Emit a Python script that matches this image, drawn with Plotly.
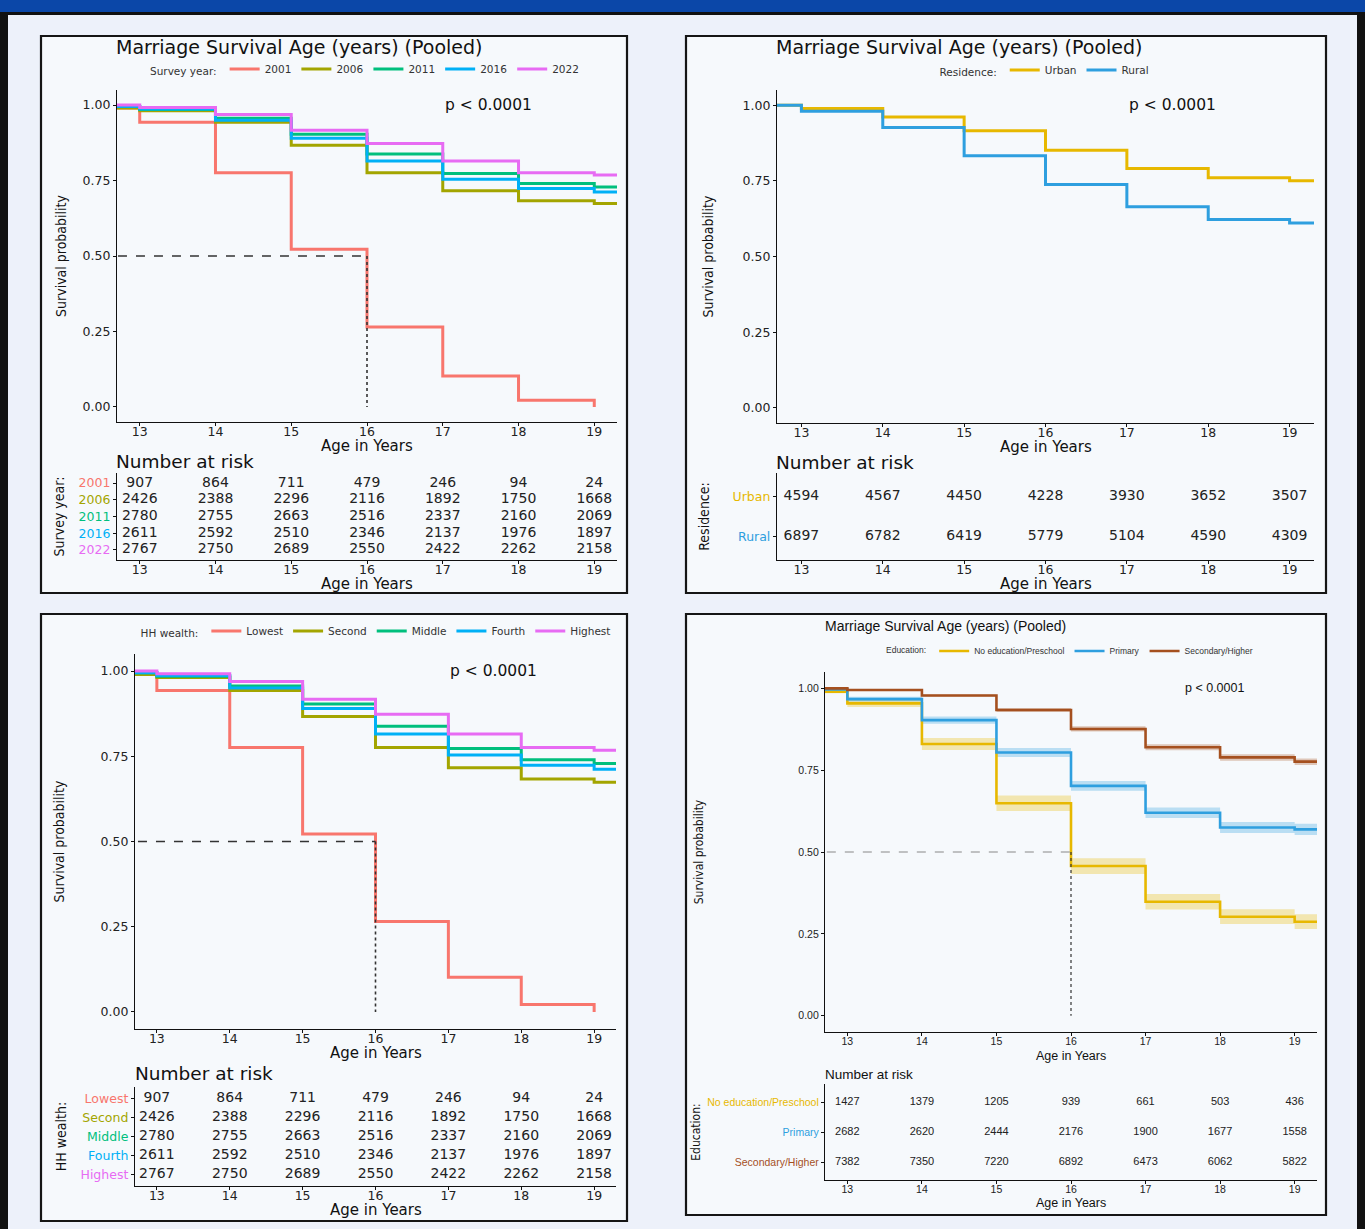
import plotly.graph_objects as go

W, H = 1365, 1229

# ------------------------------------------------------------------ data
ages = [13, 14, 15, 16, 17, 18, 19]
age_origin = 12        # curves start before the first displayed age
followup_end = 19.3    # end of the follow-up window

# Panels A and C (same estimates, different labels)
survey_year_labels = ["2001", "2006", "2011", "2016", "2022"]
wealth_labels = ["Lowest", "Second", "Middle", "Fourth", "Highest"]
five_colors = ["#F8766D", "#A3A500", "#00BF7D", "#00B0F6", "#E76BF3"]
five_start = [0.99, 0.99, 0.995, 0.995, 1.0]
surv_g1 = [0.943, 0.776, 0.522, 0.265, 0.102, 0.022, 0.0]
surv_g2 = [0.981, 0.943, 0.867, 0.776, 0.716, 0.683, 0.674]
surv_g3 = [0.985, 0.956, 0.903, 0.838, 0.773, 0.740, 0.729]
surv_g4 = [0.987, 0.950, 0.890, 0.815, 0.754, 0.724, 0.712]
surv_g5 = [0.992, 0.969, 0.917, 0.873, 0.815, 0.776, 0.768]
risk_g1 = [907, 864, 711, 479, 246, 94, 24]
risk_g2 = [2426, 2388, 2296, 2116, 1892, 1750, 1668]
risk_g3 = [2780, 2755, 2663, 2516, 2337, 2160, 2069]
risk_g4 = [2611, 2592, 2510, 2346, 2137, 1976, 1897]
risk_g5 = [2767, 2750, 2689, 2550, 2422, 2262, 2158]

# Panel B (residence)
residence_labels = ["Urban", "Rural"]
residence_colors = ["#E7B800", "#2E9FDF"]
residence_start = [1.0, 1.0]
surv_urban = [0.989, 0.961, 0.915, 0.851, 0.791, 0.760, 0.750]
surv_rural = [0.980, 0.926, 0.833, 0.738, 0.664, 0.622, 0.611]
risk_urban = [4594, 4567, 4450, 4228, 3930, 3652, 3507]
risk_rural = [6897, 6782, 6419, 5779, 5104, 4590, 4309]

# Panel D (education)
edu_labels = ["No education/Preschool", "Primary", "Secondary/Higher"]
edu_colors = ["#E7B800", "#2E9FDF", "#A5501F"]
edu_fill = ["rgba(231,184,0,0.30)", "rgba(46,159,223,0.30)", "rgba(165,80,31,0.30)"]
edu_start = [0.99, 0.997, 1.0]
edu_start_lo = [0.985, 0.995, 0.997]
edu_start_hi = [0.995, 0.999, 1.0]
surv_none = [0.954, 0.830, 0.649, 0.457, 0.348, 0.302, 0.287]
lo_none = [0.943, 0.812, 0.625, 0.433, 0.324, 0.280, 0.265]
hi_none = [0.965, 0.848, 0.673, 0.481, 0.372, 0.325, 0.310]
surv_primary = [0.967, 0.903, 0.804, 0.702, 0.620, 0.575, 0.569]
lo_primary = [0.960, 0.892, 0.790, 0.687, 0.604, 0.558, 0.552]
hi_primary = [0.974, 0.914, 0.818, 0.717, 0.636, 0.592, 0.586]
surv_secondary = [0.995, 0.978, 0.934, 0.876, 0.820, 0.789, 0.776]
lo_secondary = [0.993, 0.975, 0.928, 0.868, 0.811, 0.779, 0.766]
hi_secondary = [0.997, 0.981, 0.940, 0.884, 0.829, 0.799, 0.786]
risk_none = [1427, 1379, 1205, 939, 661, 503, 436]
risk_primary = [2682, 2620, 2444, 2176, 1900, 1677, 1558]
risk_secondary = [7382, 7350, 7220, 6892, 6473, 6062, 5822]

y_ticks = [0.0, 0.25, 0.5, 0.75, 1.0]
title_text = "Marriage Survival Age (years) (Pooled)"
pval_text = "p < 0.0001"
x_title = "Age in Years"

five_surv = [surv_g1, surv_g2, surv_g3, surv_g4, surv_g5]
five_risk = [risk_g1, risk_g2, risk_g3, risk_g4, risk_g5]

# ------------------------------------------------------------------ helpers
F_MAIN = "DejaVu Sans, Verdana, sans-serif"
F_NARROW = "Liberation Sans Narrow, DejaVu Sans Condensed, Liberation Sans, sans-serif"
F_D = "Liberation Sans, Arial, sans-serif"


def px_x(a, b):
    return [a / W, b / W]


def px_y(top, bottom):
    return [1 - bottom / H, 1 - top / H]


def step_xy(start, values):
    x = [age_origin] + ages
    y = [start] + values
    if values[-1] > 0:
        x = x + [followup_end]
        y = y + [values[-1]]
    return x, y


def median_age(values):
    for a, v in zip(ages, values):
        if v <= 0.5:
            return a
    return None


fig = go.Figure()


def add_km(axn, labels, colors, starts, survs, legend, width=3):
    for lab, col, s0, sv in zip(labels, colors, starts, survs):
        x, y = step_xy(s0, sv)
        fig.add_trace(go.Scatter(
            x=x, y=y, mode="lines", line=dict(color=col, width=width, shape="hv"),
            name=lab, legend=legend, xaxis="x%d" % axn, yaxis="y%d" % axn,
            hoverinfo="skip"))


def add_median(axn, values, hcolor="#333", hwidth=1.6, vwidth=1.6, legend="legend"):
    m = median_age(values)
    if m is None:
        return
    fig.add_trace(go.Scatter(x=[age_origin, m], y=[0.5, 0.5], mode="lines",
                             line=dict(color=hcolor, width=hwidth, dash="dash"),
                             showlegend=False, legend=legend,
                             xaxis="x%d" % axn, yaxis="y%d" % axn, hoverinfo="skip"))
    fig.add_trace(go.Scatter(x=[m, m], y=[0.5, 0.0], mode="lines",
                             line=dict(color="#333", width=vwidth, dash="dot"),
                             showlegend=False, legend=legend,
                             xaxis="x%d" % axn, yaxis="y%d" % axn, hoverinfo="skip"))


def add_risk(axn, risks, font, legend):
    n = len(risks)
    for i, r in enumerate(risks):
        fig.add_trace(go.Scatter(
            x=ages, y=[n - 1 - i] * len(ages), mode="text",
            text=[str(v) for v in r], textfont=font, textposition="middle center",
            showlegend=False, legend=legend,
            xaxis="x%d" % axn, yaxis="y%d" % axn, hoverinfo="skip"))


risk_font = dict(family=F_MAIN, size=14, color="#222")
# Panel A
add_km(1, survey_year_labels, five_colors, five_start, five_surv, "legend")
add_median(1, surv_g1, legend="legend")
add_risk(2, five_risk, risk_font, "legend")
# Panel B
add_km(3, residence_labels, residence_colors, residence_start, [surv_urban, surv_rural], "legend2")
add_risk(4, [risk_urban, risk_rural], risk_font, "legend2")
# Panel C
add_km(5, wealth_labels, five_colors, five_start, five_surv, "legend3")
add_median(5, surv_g1, legend="legend3")
add_risk(6, five_risk, risk_font, "legend3")
# Panel D : ribbons then curves
for s0l, s0h, lo, hi, fc in zip(edu_start_lo, edu_start_hi,
                                [lo_none, lo_primary, lo_secondary],
                                [hi_none, hi_primary, hi_secondary], edu_fill):
    xl, yl = step_xy(s0l, lo)
    xh, yh = step_xy(s0h, hi)
    fig.add_trace(go.Scatter(x=xl, y=yl, mode="lines", line=dict(width=0, shape="hv"),
                             showlegend=False, legend="legend4",
                             xaxis="x7", yaxis="y7", hoverinfo="skip"))
    fig.add_trace(go.Scatter(x=xh, y=yh, mode="lines", line=dict(width=0, shape="hv"),
                             fill="tonexty", fillcolor=fc, showlegend=False, legend="legend4",
                             xaxis="x7", yaxis="y7", hoverinfo="skip"))
add_km(7, edu_labels, edu_colors, edu_start, [surv_none, surv_primary, surv_secondary],
       "legend4", width=2.6)
add_median(7, surv_none, hcolor="#888", hwidth=1.0, vwidth=1.2, legend="legend4")
add_risk(8, [risk_none, risk_primary, risk_secondary],
         dict(family=F_D, size=11, color="#222"), "legend4")

# ------------------------------------------------------------------ axes
layout_axes = {}


def axis_key(kind, n):
    return kind if n == 1 else "%s%d" % (kind, n)


def km_axes(n, xd, yd, tickfont, ytitle_font, ystandoff=12, xlabel_off=-5):
    layout_axes[axis_key("xaxis", n)] = dict(
        domain=xd, anchor="y%d" % n, range=[12.7, 19.3], tickvals=ages,
        showline=True, linecolor="#111", linewidth=1.3, ticks="outside", ticklen=3,
        tickcolor="#111", showgrid=False, zeroline=False, tickfont=tickfont,
        ticklabelstandoff=xlabel_off)
    layout_axes[axis_key("yaxis", n)] = dict(
        domain=yd, anchor="x%d" % n, range=[-0.05, 1.05], tickvals=y_ticks,
        tickformat=".2f", showline=True, linecolor="#111", linewidth=1.3,
        ticks="outside", ticklen=3, tickcolor="#111", showgrid=False, zeroline=False,
        tickfont=tickfont,
        title=dict(text="Survival probability", font=ytitle_font, standoff=ystandoff))


def risk_axes(n, xd, yd, labels, colors, tickfont, title, ytitle_font,
              ystandoff=10, xlabel_off=-5):
    k = len(labels)
    ticktext = ['<span style="color:%s">%s</span>' % (c, l) for l, c in zip(labels, colors)]
    layout_axes[axis_key("xaxis", n)] = dict(
        domain=xd, anchor="y%d" % n, range=[12.7, 19.3], tickvals=ages,
        showline=True, linecolor="#111", linewidth=1.3, ticks="outside", ticklen=3,
        tickcolor="#111", showgrid=False, zeroline=False, tickfont=tickfont,
        ticklabelstandoff=xlabel_off)
    layout_axes[axis_key("yaxis", n)] = dict(
        domain=yd, anchor="x%d" % n, range=[-0.6, k - 0.4],
        tickvals=list(range(k - 1, -1, -1)), ticktext=ticktext,
        showline=True, linecolor="#111", linewidth=1.3, ticks="outside", ticklen=3,
        tickcolor="#111", showgrid=False, zeroline=False, tickfont=tickfont,
        title=dict(text=title, font=ytitle_font, standoff=ystandoff))


tf_main = dict(family=F_MAIN, size=12.5, color="#222")
xt_main = dict(family=F_MAIN, size=15, color="#111")
yt_narrow = dict(family=F_NARROW, size=14, color="#111")
tf_d = dict(family=F_D, size=10.5, color="#222")
xt_d = dict(family=F_D, size=12.5, color="#111")
yt_d = dict(family=F_NARROW, size=12, color="#111")

dom_a = px_x(117, 617)
dom_b = px_x(777, 1314)
dom_c = px_x(135, 616)
dom_d = px_x(825, 1317)

km_axes(1, dom_a, px_y(90, 422), tf_main, yt_narrow, ystandoff=12)
risk_axes(2, dom_a, px_y(473, 560), survey_year_labels, five_colors, tf_main,
          "Survey year:", yt_narrow, ystandoff=10)
km_axes(3, dom_b, px_y(90, 423), tf_main, yt_narrow, ystandoff=25)
risk_axes(4, dom_b, px_y(473, 560), residence_labels, residence_colors, tf_main,
          "Residence:", yt_narrow, ystandoff=19)
km_axes(5, dom_c, px_y(654, 1029), tf_main, yt_narrow, ystandoff=32)
risk_axes(6, dom_c, px_y(1087, 1186), wealth_labels, five_colors, tf_main,
          "HH wealth:", yt_narrow, ystandoff=10)
km_axes(7, dom_d, px_y(672, 1032), tf_d, yt_d, ystandoff=92, xlabel_off=-4)
risk_axes(8, dom_d, px_y(1084, 1180), edu_labels, edu_colors, tf_d,
          "Education:", yt_d, ystandoff=4, xlabel_off=-4)

# ------------------------------------------------------------------ page decoration
shapes = []
shapes.append(dict(type="rect", xref="paper", yref="paper", x0=0, x1=1, y0=1 - 12 / H, y1=1,
                   fillcolor="#0B47A8", line_width=0, layer="below"))
shapes.append(dict(type="rect", xref="paper", yref="paper", x0=0, x1=1, y0=1 - 15 / H,
                   y1=1 - 12 / H, fillcolor="#111", line_width=0, layer="below"))
shapes.append(dict(type="rect", xref="paper", yref="paper", x0=0, x1=8 / W, y0=0, y1=1 - 12 / H,
                   fillcolor="#111", line_width=0, layer="below"))
shapes.append(dict(type="rect", xref="paper", yref="paper", x0=1 - 8 / W, x1=1, y0=0,
                   y1=1 - 12 / H, fillcolor="#111", line_width=0, layer="below"))
for (x0, x1, y0, y1) in [(41, 627, 36, 593), (686, 1326, 36, 593),
                         (41, 627, 614, 1221), (686, 1326, 614, 1215)]:
    shapes.append(dict(type="rect", xref="paper", yref="paper", x0=x0 / W, x1=x1 / W,
                       y0=1 - y1 / H, y1=1 - y0 / H, fillcolor="#F6F9FC",
                       line=dict(color="#151515", width=2.2), layer="below"))

annotations = []


def ann(text, xpx, ypx, font, xanchor="left"):
    annotations.append(dict(text=text, x=xpx / W, y=1 - ypx / H, xref="paper", yref="paper",
                            xanchor=xanchor, yanchor="middle", showarrow=False, font=font))


def xtitle(dom, ypx, font):
    annotations.append(dict(text=x_title, x=(dom[0] + dom[1]) / 2, y=1 - ypx / H,
                            xref="paper", yref="paper", xanchor="center", yanchor="middle",
                            showarrow=False, font=font))


ft_title = dict(family=F_MAIN, size=19, color="#111")
ann(title_text, 114, 47, ft_title)
ann(title_text, 774, 47, ft_title)
ann(title_text, 823, 626, dict(family=F_D, size=14, color="#111"))
ft_nar = dict(family=F_MAIN, size=18.5, color="#111")
ann("Number at risk", 114, 461, ft_nar)
ann("Number at risk", 774, 462, ft_nar)
ann("Number at risk", 133, 1073, ft_nar)
ann("Number at risk", 823, 1074, dict(family=F_D, size=13.5, color="#111"))

xtitle(dom_a, 446, xt_main)
xtitle(dom_a, 584, xt_main)
xtitle(dom_b, 447, xt_main)
xtitle(dom_b, 584, xt_main)
xtitle(dom_c, 1053, xt_main)
xtitle(dom_c, 1210, xt_main)
xtitle(dom_d, 1056, xt_d)
xtitle(dom_d, 1203, xt_d)

ft_p = dict(family=F_MAIN, size=15.5, color="#111")
for axn in (1, 3, 5):
    annotations.append(dict(text=pval_text, x=17.0, y=1.0, xref="x%d" % axn, yref="y%d" % axn,
                            xanchor="left", yanchor="middle", showarrow=False, font=ft_p))
annotations.append(dict(text=pval_text, x=17.5, y=1.0, xref="x7", yref="y7",
                        xanchor="left", yanchor="middle", showarrow=False,
                        font=dict(family=F_D, size=12.5, color="#111")))

leg_common = dict(orientation="h", xanchor="center", yanchor="middle", traceorder="normal",
                  bgcolor="rgba(0,0,0,0)", itemwidth=30, tracegroupgap=0)
lf = dict(family=F_MAIN, size=10.5, color="#333")
lfd = dict(family=F_D, size=8.5, color="#333")


def leg_title(text, size, big, family):
    # larger outer font lowers the baseline so the title sits level with the items
    return dict(text='<span style="font-size:%spx">%s</span>' % (size, text), side="left",
                font=dict(family=family, size=big, color="#333"))


fig.update_layout(
    width=W, height=H, margin=dict(l=0, r=0, t=0, b=0),
    paper_bgcolor="#EDF1FA", plot_bgcolor="rgba(0,0,0,0)",
    showlegend=True,
    legend=dict(x=366 / W, y=1 - 70 / H, font=lf,
                title=leg_title("Survey year:", 10.5, 16, F_MAIN), **leg_common),
    legend2=dict(x=1046 / W, y=1 - 71 / H, font=lf,
                 title=leg_title("Residence:", 10.5, 16, F_MAIN), **leg_common),
    legend3=dict(x=377 / W, y=1 - 632 / H, font=lf,
                 title=leg_title("HH wealth:", 10.5, 16, F_MAIN), **leg_common),
    legend4=dict(x=1071 / W, y=1 - 651 / H, font=lfd,
                 title=leg_title("Education:", 8.5, 13, F_D), **leg_common),
    shapes=shapes, annotations=annotations,
    **layout_axes,
)

fig.write_html("out.html", config={"displayModeBar": False},
               post_script="document.body.style.margin='0';document.body.style.padding='0';"
                           "document.body.style.overflow='hidden';")
